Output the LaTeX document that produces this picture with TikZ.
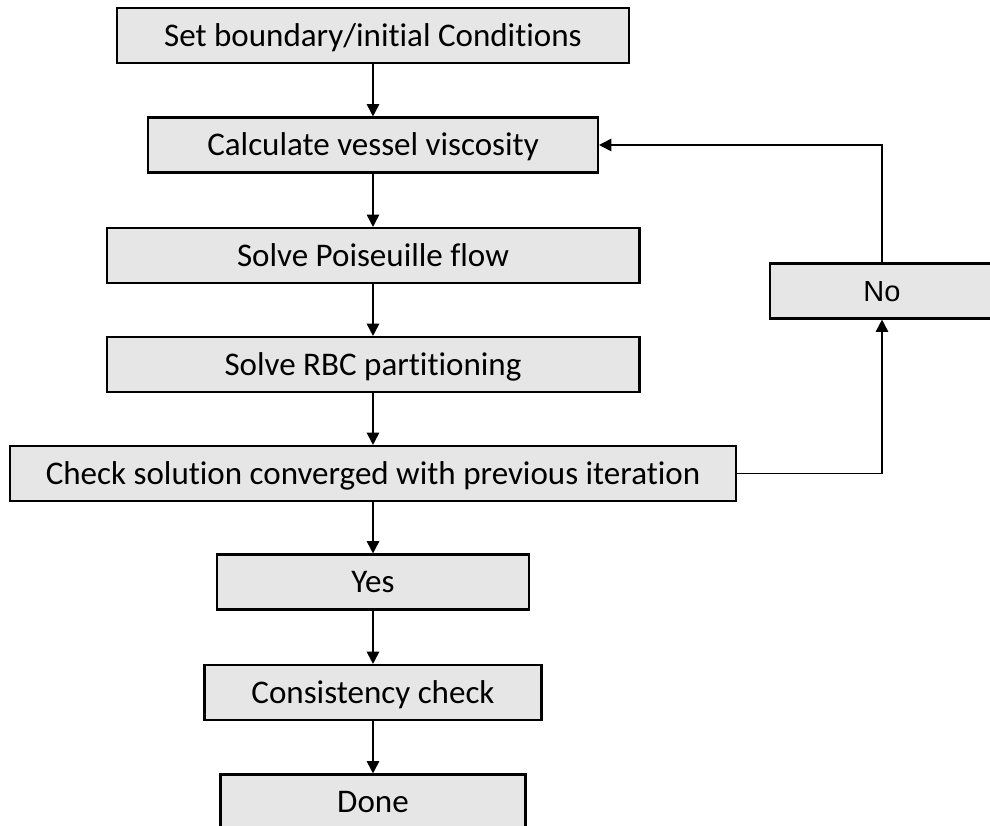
\documentclass[tikz,border=0pt]{standalone}
\usepackage{fontspec}
\setmainfont[Ligatures={NoCommon}]{Carlito}
\newfontfamily\nofont{Liberation Sans}
\usepackage{tikz}
\usetikzlibrary{arrows.meta}

\begin{document}
\begin{tikzpicture}[x=0.02cm, y=-0.02cm, font=\fontsize{18.8}{22}\selectfont]
			\tikzstyle{b}=[rectangle,draw,line width=1.2pt,fill={rgb,255:red,230;green,230;blue,230},minimum height=1.1cm,inner sep=0pt,text height=12.1pt,text depth=0pt]
			\useasboundingbox (0,0) rectangle (990,825);
				\node [b,minimum width=10.24cm] (1) at (373,35.5) {Set boundary/initial Conditions};
				\node [b,minimum width=9.0cm] (2) at (373,145) {Calculate vessel viscosity};
				\node [b,minimum width=10.66cm] (3) at (373,255.5) {Solve Poiseuille flow};
				\node [b,minimum width=10.66cm] (4) at (373,364.5) {Solve RBC partitioning};
				\node [b,minimum width=14.54cm] (5) at (373,473.5) {Check solution converged with previous iteration};
				\node [b,minimum width=6.24cm] (6) at (373,582) {Yes};
				\node [b,minimum width=6.74cm] (7) at (373,692.5) {Consistency check};
				\node [b,minimum width=6.1cm] (8) at (373,802) {Done};
				\node [b,minimum width=4.48cm,font=\nofont\fontsize{16.5}{20}\selectfont,text height=11.8pt] (9) at (882,291) {No};
				\draw [line width=1pt,->,>={Triangle[length=7pt,width=7pt]}] (1) -- (2);
				\draw [line width=1pt,->,>={Triangle[length=7pt,width=7pt]}] (2) -- (3);
				\draw [line width=1pt,->,>={Triangle[length=7pt,width=7pt]}] (3) -- (4);
				\draw [line width=1pt,->,>={Triangle[length=7pt,width=7pt]}] (4) -- (5);
				\draw [line width=1pt,->,>={Triangle[length=7pt,width=7pt]}] (5) -- (6);
				\draw [line width=1pt,->,>={Triangle[length=7pt,width=7pt]}] (6) -- (7);
				\draw [line width=1pt,->,>={Triangle[length=7pt,width=7pt]}] (7) -- (8);
				\draw [line width=1pt,->,>={Triangle[length=7pt,width=7pt]}] (5.east) -| (9.south);
				\draw [line width=1pt,->,>={Triangle[length=7pt,width=7pt]}] (9.north) |- (2.east);
	\end{tikzpicture}
\end{document}
